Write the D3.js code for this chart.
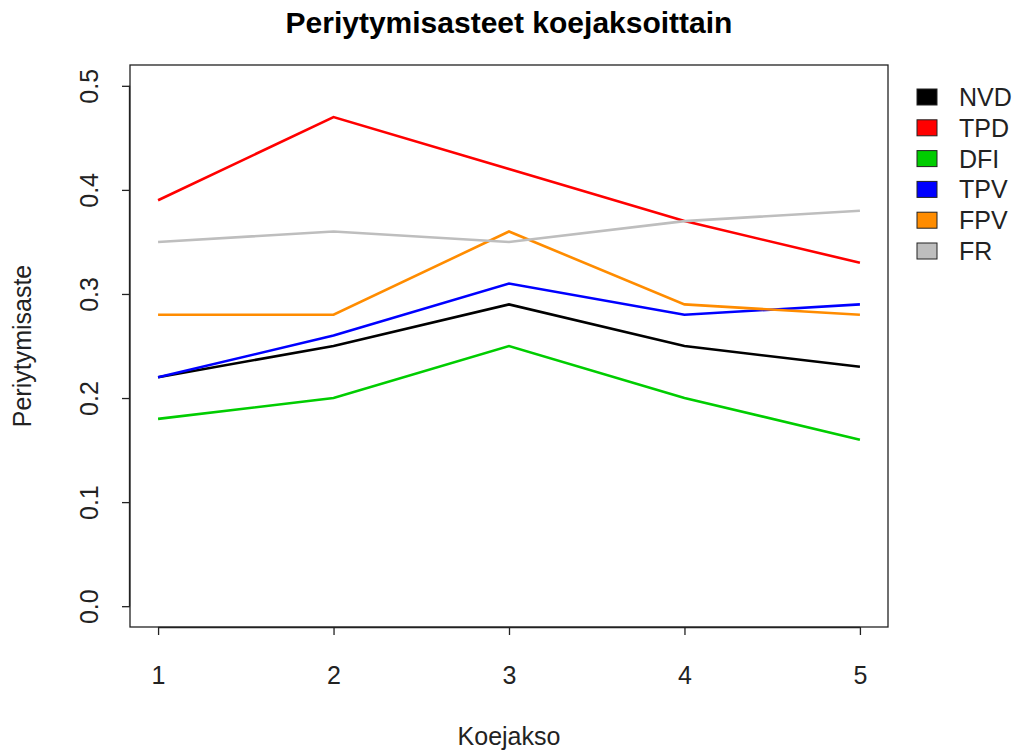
<!DOCTYPE html>
<html>
<head>
<meta charset="utf-8">
<script src="https://cdn.jsdelivr.net/npm/d3@7"></script>
<style>
  html, body { margin: 0; padding: 0; background: #fff; }
  svg { display: block; font-family: "Liberation Sans", Arial, sans-serif; }
</style>
</head>
<body>
<svg id="chart" width="1017" height="751"></svg>
<script>
// Test periods on the x axis
const periods = [1, 2, 3, 4, 5];
const yTicks = [0.0, 0.1, 0.2, 0.3, 0.4, 0.5];

// Heritability per trait
const seriesNames = ["NVD", "TPD", "DFI", "TPV", "FPV", "FR"];
const seriesColors = ["#000000", "#FF0000", "#00CD00", "#0000FF", "#FF8C00", "#BEBEBE"];
const NVD = [0.22, 0.25, 0.29, 0.25, 0.23];
const TPD = [0.39, 0.47, 0.42, 0.37, 0.33];
const DFI = [0.18, 0.20, 0.25, 0.20, 0.16];
const TPV = [0.22, 0.26, 0.31, 0.28, 0.29];
const FPV = [0.28, 0.28, 0.36, 0.29, 0.28];
const FR  = [0.35, 0.36, 0.35, 0.37, 0.38];
const seriesValues = [NVD, TPD, DFI, TPV, FPV, FR];

const baseFont = 25;
const fontFamily = "Liberation Sans, Arial, sans-serif";

const svg = d3.select("#chart");
const box = { left: 130, right: 888, top: 65, bottom: 627 };

// 4% padding on both axes around the data range
const x = d3.scaleLinear().domain([1 - 0.16, 5 + 0.16]).range([box.left, box.right]);
const y = d3.scaleLinear().domain([-0.02, 0.52]).range([box.bottom, box.top]);

// Lines
const line = d3.line().x((d, i) => x(periods[i])).y(d => y(d));
seriesValues.forEach((vals, k) => {
  svg.append("path")
    .attr("d", line(vals))
    .attr("fill", "none")
    .attr("stroke", seriesColors[k])
    .attr("stroke-width", 2.6)
    .attr("stroke-linejoin", "miter");
});

// Plot frame
svg.append("rect")
  .attr("x", box.left).attr("y", box.top)
  .attr("width", box.right - box.left).attr("height", box.bottom - box.top)
  .attr("fill", "none").attr("stroke", "#222").attr("stroke-width", 1.3);

// X axis
const xAxis = d3.axisBottom(x).tickValues(periods).tickFormat(d3.format("d")).tickSize(8);
const gx = svg.append("g").attr("transform", `translate(0,${box.bottom})`).call(xAxis);
gx.attr("font-size", null).attr("font-family", null);
gx.select(".domain").attr("d", `M${x(1)},0.5H${x(5)}`).attr("stroke", "#222").attr("stroke-width", 1.3);
gx.selectAll(".tick line").attr("stroke", "#222").attr("stroke-width", 1.3);
gx.selectAll(".tick text")
  .attr("font-size", baseFont).attr("fill", "#222").attr("font-family", fontFamily)
  .attr("dy", null).attr("y", 57);

// Y axis
const yAxis = d3.axisLeft(y).tickValues(yTicks).tickFormat(d3.format(".1f")).tickSize(8);
const gy = svg.append("g").attr("transform", `translate(${box.left},0)`).call(yAxis);
gy.attr("font-size", null).attr("font-family", null);
gy.select(".domain").attr("d", `M-0.5,${y(0)}V${y(0.5)}`).attr("stroke", "#222").attr("stroke-width", 1.3);
gy.selectAll(".tick line").attr("stroke", "#222").attr("stroke-width", 1.3);
gy.selectAll(".tick text")
  .attr("font-size", baseFont).attr("fill", "#222").attr("font-family", fontFamily)
  .attr("x", null).attr("dy", null)
  .attr("text-anchor", "middle")
  .attr("transform", "translate(-32,0) rotate(-90)");

// Title and axis labels
svg.append("text")
  .attr("x", (box.left + box.right) / 2).attr("y", 33)
  .attr("text-anchor", "middle").attr("font-size", baseFont * 1.2).attr("font-weight", "bold").attr("fill", "#000")
  .text("Periytymisasteet koejaksoittain");

svg.append("text")
  .attr("x", (box.left + box.right) / 2).attr("y", 745)
  .attr("text-anchor", "middle").attr("font-size", baseFont).attr("fill", "#222")
  .text("Koejakso");

svg.append("text")
  .attr("transform", `translate(31,${(box.top + box.bottom) / 2}) rotate(-90)`)
  .attr("text-anchor", "middle").attr("font-size", baseFont).attr("fill", "#222")
  .text("Periytymisaste");

// Legend
const legend = svg.append("g");
seriesNames.forEach((name, k) => {
  const cy = 97 + k * 30.8;
  legend.append("rect")
    .attr("x", 917).attr("y", cy - 8).attr("width", 20).attr("height", 16)
    .attr("fill", seriesColors[k]).attr("stroke", "#222").attr("stroke-width", 1);
  legend.append("text")
    .attr("x", 959).attr("y", cy + 9)
    .attr("font-size", baseFont).attr("fill", "#222")
    .text(name);
});
</script>
</body>
</html>
